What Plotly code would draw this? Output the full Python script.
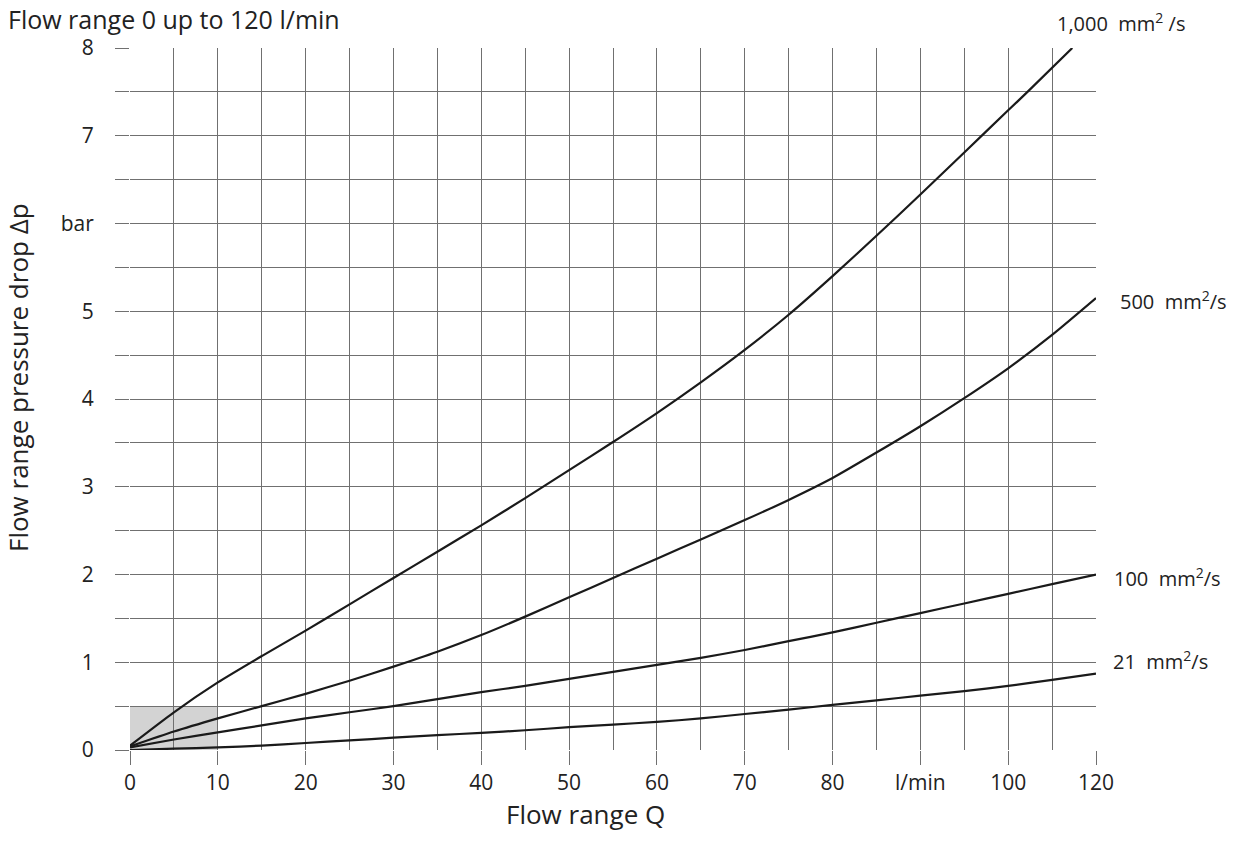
import plotly.graph_objects as go

# Flow Q positions on the chart grid (grid runs 0..110; last tick is labelled "120" in the original)
q = [0, 5, 10, 15, 20, 25, 30, 35, 40, 45, 50, 55, 60, 65, 70, 75, 80, 85, 90, 95, 100, 105, 110]
q_1000 = [0, 5, 10, 15, 20, 25, 30, 35, 40, 45, 50, 55, 60, 65, 70, 75, 80, 85, 90, 95, 100, 102.2, 107.3]
dp_1000 = [0.05, 0.43, 0.77, 1.07, 1.36, 1.66, 1.96, 2.26, 2.56, 2.87, 3.19, 3.51, 3.84, 4.19, 4.56, 4.96,
           5.40, 5.86, 6.33, 6.81, 7.29, 7.50, 8.00]
dp_500 = [0.04, 0.21, 0.36, 0.50, 0.64, 0.79, 0.95, 1.12, 1.31, 1.52, 1.74, 1.96, 2.18, 2.40, 2.62, 2.85,
          3.10, 3.39, 3.69, 4.01, 4.35, 4.73, 5.15]
dp_100 = [0.03, 0.12, 0.20, 0.28, 0.36, 0.43, 0.50, 0.58, 0.66, 0.73, 0.81, 0.89, 0.97, 1.05, 1.14, 1.24,
          1.34, 1.45, 1.56, 1.67, 1.78, 1.89, 2.00]
dp_21 = [0.00, 0.015, 0.03, 0.05, 0.08, 0.11, 0.14, 0.17, 0.195, 0.225, 0.26, 0.29, 0.32, 0.36, 0.41, 0.46,
         0.515, 0.565, 0.62, 0.67, 0.73, 0.80, 0.87]

curve_labels = ["1,000  mm<sup>2</sup> /s", "500  mm<sup>2</sup>/s", "100  mm<sup>2</sup>/s", "21  mm<sup>2</sup>/s"]
x_tickvals = [0, 10, 20, 30, 40, 50, 60, 70, 80, 90, 100, 110]
x_ticktext = ["0", "10", "20", "30", "40", "50", "60", "70", "80", "l/min", "100", "120"]
y_tickvals = [0, 1, 2, 3, 4, 5, 6, 7, 8]
y_ticktext = ["0", "1", "2", "3", "4", "5", "bar", "7", "8"]

line_col = "#1a1a1a"
grid_col = "#707070"
text_col = "#222222"
FONT = "Open Sans"

# plot area in pixels
PL, PR, PT, PB = 130.0, 1096.0, 48.0, 750.0


def px_x(p):
    return (p - PL) / (PR - PL)


def px_y(p):
    return (PB - p) / (PB - PT)


fig = go.Figure()

# shaded region
fig.add_shape(type="rect", x0=0, x1=10, y0=0, y1=0.5, xref="x", yref="y",
              fillcolor="#d3d3d3", line=dict(width=0), layer="below")

for xs, ys in [(q_1000, dp_1000), (q, dp_500), (q, dp_100), (q, dp_21)]:
    fig.add_trace(go.Scatter(x=xs, y=ys, mode="lines",
                             line=dict(color=line_col, width=2.2, shape="spline", smoothing=0.6),
                             showlegend=False, hoverinfo="skip"))

# curve labels
label_pos = [(1055, 22), (1118, 300), (1112, 577), (1111, 660)]
for txt, (px, py) in zip(curve_labels, label_pos):
    fig.add_annotation(text=txt, x=px_x(px), y=px_y(py), xref="paper", yref="paper",
                       xanchor="left", yanchor="middle", showarrow=False,
                       font=dict(family=FONT, size=20, color=text_col))

fig.add_annotation(text="Flow range 0 up to 120 l/min", x=px_x(6), y=px_y(19), xref="paper", yref="paper",
                   xanchor="left", yanchor="middle", showarrow=False,
                   font=dict(family=FONT, size=25, color=text_col))
fig.add_annotation(text="Flow range Q", x=px_x(585), y=px_y(814), xref="paper", yref="paper",
                   xanchor="center", yanchor="middle", showarrow=False,
                   font=dict(family=FONT, size=26, color=text_col))
fig.add_annotation(text="Flow range pressure drop Δp", x=px_x(18), y=px_y(378), xref="paper", yref="paper",
                   xanchor="center", yanchor="middle", showarrow=False, textangle=-90,
                   font=dict(family=FONT, size=26, color=text_col))

fig.update_layout(
    width=1235, height=843, autosize=False,
    margin=dict(l=130, r=139, t=48, b=93, pad=0),
    plot_bgcolor="white", paper_bgcolor="white",
    xaxis=dict(range=[0, 110], tickvals=x_tickvals, ticktext=x_ticktext, automargin=False,
               ticks="outside", ticklen=14, tickcolor=grid_col, tickwidth=1,
               showgrid=True, gridcolor=grid_col, gridwidth=1,
               minor=dict(dtick=5, showgrid=True, gridcolor=grid_col, gridwidth=1, ticks=""),
               zeroline=False, showline=False,
               tickfont=dict(family=FONT, size=21, color=text_col), ticklabelstandoff=0),
    yaxis=dict(range=[0, 8], tickvals=y_tickvals, ticktext=y_ticktext, automargin=False,
               ticks="outside", ticklen=14, tickcolor=grid_col, tickwidth=1,
               showgrid=True, gridcolor=grid_col, gridwidth=1,
               minor=dict(dtick=0.5, showgrid=True, gridcolor=grid_col, gridwidth=1,
                          ticks="outside", ticklen=14, tickcolor=grid_col),
               zeroline=False, showline=False,
               tickfont=dict(family=FONT, size=21, color=text_col), ticklabelstandoff=17),
)

fig.write_html("out.html", config={"displayModeBar": False},
               post_script="document.body.style.margin='0';document.body.style.padding='0';")
